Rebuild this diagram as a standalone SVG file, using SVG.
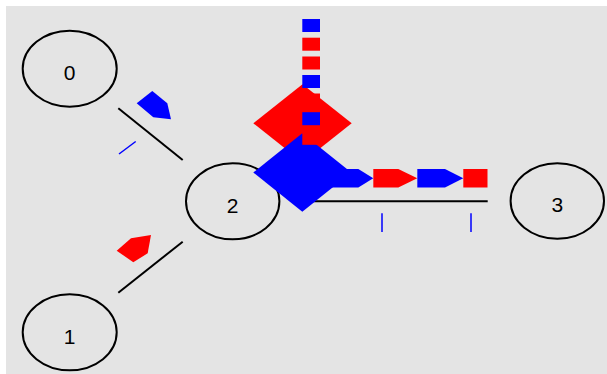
<svg xmlns="http://www.w3.org/2000/svg" width="607" height="374" viewBox="0 0 607 374">
<style>
.node ellipse{fill:none;stroke:#000;stroke-width:2}
.node text{font-family:"Liberation Sans","DejaVu Sans",sans-serif;font-size:21px;fill:#000;text-anchor:middle}
.link{stroke:#000;stroke-width:2;fill:none}
.tick{stroke:#0000ff;stroke-width:1.5}
.b{fill:#0000ff}
.r{fill:#ff0000}
</style>
<rect x="0" y="0" width="607" height="374" fill="#ffffff"/>
<rect x="6" y="6" width="601" height="368" fill="#e4e4e4"/>
<g id="connectors">
<line class="link" x1="118.3" y1="108.3" x2="182.7" y2="160"/>
<line class="link" x1="118.3" y1="292.7" x2="182.7" y2="241.7"/>
<line class="link" x1="300" y1="201.3" x2="487.7" y2="201.3"/>
</g>
<g id="node0" class="node"><ellipse cx="69.7" cy="68.7" rx="47" ry="38"/><text x="69.7" y="79.5">0</text></g>
<g id="node1" class="node"><ellipse cx="69.7" cy="332.3" rx="47" ry="38"/><text x="69.7" y="343.8">1</text></g>
<g id="node2" class="node"><ellipse cx="232.7" cy="201.3" rx="46.7" ry="38"/><text x="232.7" y="212.5">2</text></g>
<g id="node3" class="node"><ellipse cx="557.3" cy="201" rx="46.7" ry="37.7"/><text x="557.3" y="212">3</text></g>
<g id="packets">
<line class="tick" x1="119" y1="154" x2="135.7" y2="141.5" stroke-width="1.2"/>
<line class="tick" x1="382" y1="213.3" x2="382" y2="232"/>
<line class="tick" x1="471" y1="213.3" x2="471" y2="232"/>
<polygon class="b" points="136.7,103.3 152.3,91 167.3,103.3 171,119.3 153.3,117.3"/>
<polygon class="r" points="116.7,250.7 131,238.3 151,235 147.7,253.3 133.3,262.3"/>
<polygon class="r" points="302.5,84.3 351.7,123.3 302.5,162.3 253.3,123.3"/>
<polygon class="b" points="302.3,133.3 351.3,172.5 302.3,211.7 253.3,172.5"/>
<rect class="b" x="302.3" y="19" width="17.7" height="13"/>
<rect class="r" x="302.3" y="37.7" width="17.7" height="13"/>
<rect class="r" x="302.3" y="56.5" width="17.7" height="13"/>
<rect class="b" x="302.3" y="75" width="17.7" height="13"/>
<rect class="r" x="302.3" y="93.5" width="17.7" height="13"/>
<rect class="b" x="302.3" y="112.2" width="17.7" height="13"/>
<rect class="r" x="302.3" y="131.3" width="17.7" height="13.5"/>
<polygon class="b" points="330,169 358.3,169 373.3,178.2 358.3,187.5 330,187.5"/>
<polygon class="r" points="373.3,169 398.3,169 417.3,178.2 398.3,187.5 373.3,187.5"/>
<polygon class="b" points="417.3,169 445,169 463.3,178.2 445,187.5 417.3,187.5"/>
<rect class="r" x="463.3" y="169" width="24.2" height="18.5"/>
</g>
</svg>
